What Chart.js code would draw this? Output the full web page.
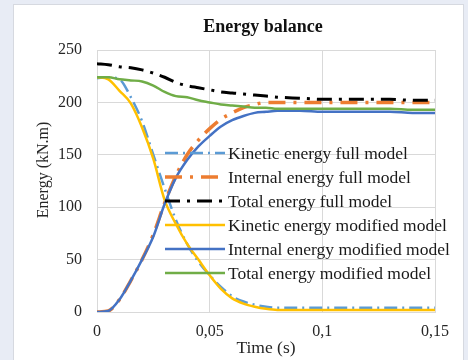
<!DOCTYPE html>
<html>
<head>
<meta charset="utf-8">
<script src="https://cdn.jsdelivr.net/npm/chart.js@4.4.1/dist/chart.umd.min.js"></script>
<style>
  html, body { margin:0; padding:0; background:#e8ecf5; }
  #panel { position:absolute; left:13px; top:4px; width:449px; height:356px; background:#fff; border:1px solid #d6d9e0; border-bottom:none; }
  canvas { display:block; }
</style>
</head>
<body>
<div id="panel"><canvas id="c" width="449" height="356"></canvas></div>
<script>
// ── DATA ─────────────────────────────────────────────────────────
const times        = [0,0.005,0.01,0.015,0.02,0.025,0.03,0.035,0.04,0.045,0.05,0.055,0.06,0.065,0.07,0.075,0.08,0.09,0.1,0.11,0.12,0.13,0.14,0.15];
const kineticFull  = [223,224,222,205,182,150,118,88,65,48,35,24,15,10,7,5,4,4,4,4,4,4,4,4];
const internalFull = [0,1,12,30,50,74,104,130,150,164,175,184,190,195,198,200,200,200,200,200,200,200,200,200];
const totalFull    = [237,236,234,233,231,228,224,219,216,214,212,210,209,208,207,206,205,204,203,203,203,203,202,202];
const kineticMod   = [224,222,211,199,176,146,107,84,65,50,35,22,13,8,5,3,2,2,2,2,2,2,2,2];
const internalMod  = [0,1,12,30,50,72,103,128,145,158,168,177,183,187,190,191,192,192,191,191,191,191,190,190];
const totalMod     = [224,224,222,221,220,216,210,206,205,202,200,198,197,196,195,195,194,194,194,194,194,194,193,193];
const seriesNames  = ['Kinetic energy full model','Internal energy full model','Total energy full model',
                      'Kinetic energy modified model','Internal energy modified model','Total energy modified model'];
const yTicks = [0,50,100,150,200,250];
const xTicks = [0,0.05,0.1,0.15];

const FONT = "'Liberation Serif','Times New Roman',serif";
const pts = arr => arr.map((v,i) => ({ x: times[i], y: v }));

const styles = [
  { color:'#5b9bd5', width:2.5, dash:[13,5,2,5] },
  { color:'#ed7d31', width:3.5, dash:[17,8,3,8] },
  { color:'#000000', width:3,   dash:[15,7,3,7] },
  { color:'#ffc000', width:2.5, dash:[] },
  { color:'#4472c4', width:2.5, dash:[] },
  { color:'#70ad47', width:2.5, dash:[] },
];
const values = [kineticFull, internalFull, totalFull, kineticMod, internalMod, totalMod];

const datasets = values.map((arr,i) => ({
  label: seriesNames[i],
  data: pts(arr),
  borderColor: styles[i].color,
  borderWidth: styles[i].width,
  borderDash: styles[i].dash,
  pointRadius: 0,
  fill: false,
  cubicInterpolationMode: 'monotone',
  order: 6 - i
}));

// title, y title and legend drawn over the plot, like the Excel original
const overlay = {
  id: 'overlay',
  afterDraw(chart) {
    const { ctx, chartArea: a } = chart;
    ctx.save();
    ctx.fillStyle = '#111';
    ctx.font = "bold 18px " + FONT;
    ctx.textAlign = 'center';
    ctx.textBaseline = 'middle';
    ctx.fillText('Energy balance', (a.left + a.right) / 2 - 3, 22);

    ctx.save();
    ctx.translate(30, 165);
    ctx.rotate(-Math.PI / 2);
    ctx.font = "16px " + FONT;
    ctx.fillStyle = '#262626';
    ctx.fillText('Energy (kN.m)', 0, 0);
    ctx.restore();

    ctx.font = "17.5px " + FONT;
    ctx.textAlign = 'left';
    const x0 = a.left + 68, x1 = a.left + 128;
    chart.data.datasets.forEach((ds, i) => {
      const y = 148 + i * 24;
      ctx.beginPath();
      ctx.setLineDash(ds.borderDash);
      ctx.strokeStyle = ds.borderColor;
      ctx.lineWidth = ds.borderWidth;
      ctx.moveTo(x0, y); ctx.lineTo(x1, y);
      ctx.stroke();
      ctx.setLineDash([]);
      ctx.fillStyle = '#1a1a1a';
      ctx.fillText(ds.label, x1 + 3, y + 1);
    });
    ctx.restore();
  }
};

new Chart(document.getElementById('c'), {
  type: 'line',
  data: { datasets },
  options: {
    responsive: false,
    animation: false,
    devicePixelRatio: 1,
    layout: { padding: { top:45, right:28, left:0, bottom:0 } },
    plugins: { legend: { display:false }, title: { display:false }, tooltip: { enabled:false } },
    scales: {
      x: {
        type: 'linear', min: 0, max: 0.15,
        afterBuildTicks: s => { s.ticks = xTicks.map(v => ({ value: v })); },
        afterFit: s => { s.height = 49; },
        grid: { color:'#d9d9d9', drawTicks:false },
        border: { color:'#d9d9d9' },
        ticks: { padding:10, color:'#262626', font:{ family:FONT, size:16 },
                 callback: v => String(Number(v.toFixed(2))).replace('.', ',') },
        title: { display:true, text:'Time (s)', color:'#262626', font:{ family:FONT, size:17.5 }, padding:{ top:0, bottom:2 } }
      },
      y: {
        min: 0, max: 250,
        afterBuildTicks: s => { s.ticks = yTicks.map(v => ({ value: v })); },
        afterFit: s => { s.width = 83; },
        grid: { color:'#d9d9d9', drawTicks:false },
        border: { color:'#d9d9d9' },
        ticks: { padding:15, color:'#262626', font:{ family:FONT, size:16 } }
      }
    }
  },
  plugins: [overlay]
});
</script>
</body>
</html>
